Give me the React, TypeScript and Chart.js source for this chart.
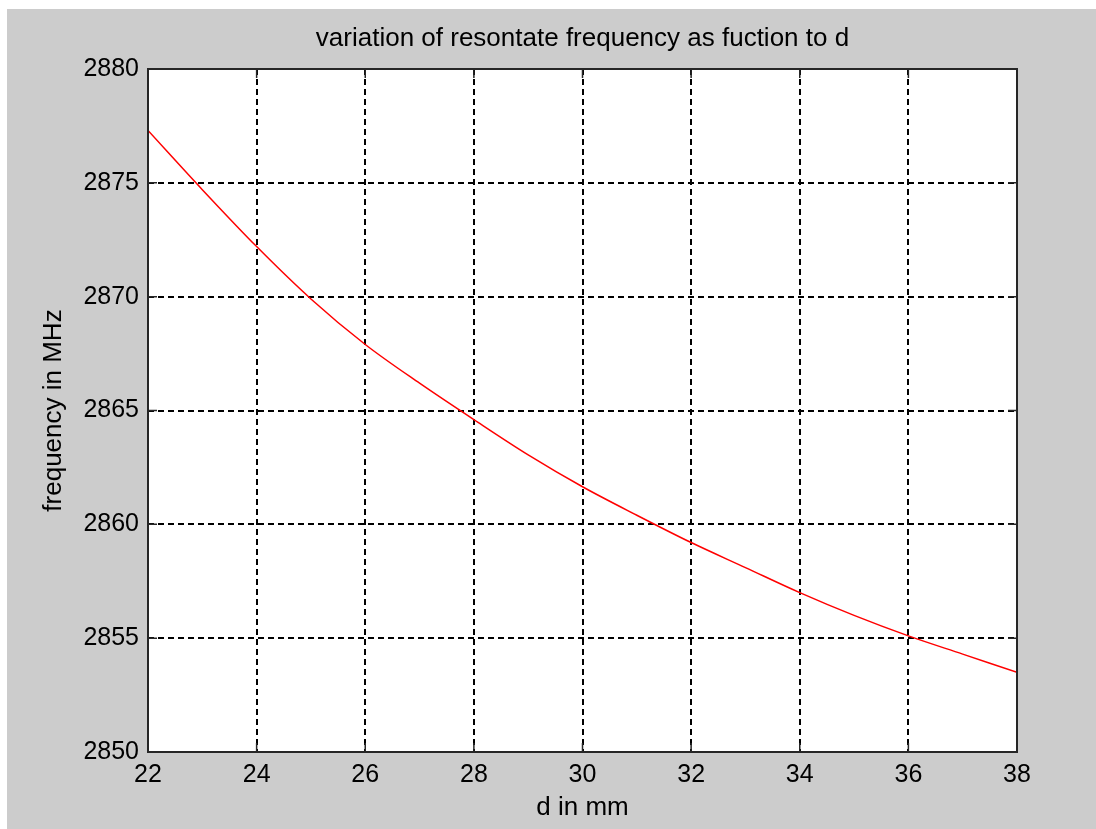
import React, { useEffect, useRef } from "react";
import { Chart, registerables } from "chart.js";

Chart.register(...registerables);

const dValues = [22, 23, 24, 25, 26, 27, 28, 29, 30, 31, 32, 33, 34, 35, 36, 37, 38];
const freqValues = [
  2877.3, 2874.7, 2872.2, 2869.9, 2867.9, 2866.2, 2864.6, 2863.05, 2861.65,
  2860.4, 2859.2, 2858.1, 2857.0, 2856.0, 2855.1, 2854.3, 2853.5,
];
const xTickValues = [22, 24, 26, 28, 30, 32, 34, 36, 38];
const yTickValues = [2850, 2855, 2860, 2865, 2870, 2875, 2880];

const titleText = "variation of resontate frequency as fuction to d";
const xLabel = "d in mm";
const yLabel = "frequency in MHz";

const FONT = "'Liberation Sans', Arial, sans-serif";

const frame = {
  id: "matlabFrame",
  beforeDraw(chart: any) {
    const { ctx, chartArea: a } = chart;
    ctx.save();
    ctx.fillStyle = "#ffffff";
    ctx.fillRect(a.left, a.top, a.right - a.left, a.bottom - a.top);
    ctx.restore();
  },
  afterDraw(chart: any) {
    const { ctx, chartArea: a, scales } = chart;
    ctx.save();
    ctx.strokeStyle = "#262626";
    ctx.lineWidth = 1.5;
    const L = 9;
    ctx.beginPath();
    for (const v of xTickValues) {
      const px = scales.x.getPixelForValue(v);
      ctx.moveTo(px, a.bottom);
      ctx.lineTo(px, a.bottom - L);
      ctx.moveTo(px, a.top);
      ctx.lineTo(px, a.top + L);
    }
    for (const v of yTickValues) {
      const py = scales.y.getPixelForValue(v);
      ctx.moveTo(a.left, py);
      ctx.lineTo(a.left + L, py);
      ctx.moveTo(a.right, py);
      ctx.lineTo(a.right - L, py);
    }
    ctx.stroke();
    ctx.lineWidth = 2;
    ctx.strokeRect(a.left, a.top, a.right - a.left, a.bottom - a.top);
    ctx.restore();
  },
};

export default function App() {
  const ref = useRef<HTMLCanvasElement | null>(null);

  useEffect(() => {
    if (!ref.current) return;
    const chart = new Chart(ref.current, {
      type: "line",
      data: {
        datasets: [
          {
            data: dValues.map((d, i) => ({ x: d, y: freqValues[i] })),
            borderColor: "#ff0000",
            borderWidth: 1.5,
            pointRadius: 0,
            cubicInterpolationMode: "monotone",
            fill: false,
          },
        ],
      },
      options: {
        animation: false,
        responsive: false,
        devicePixelRatio: 1,
        layout: { padding: { left: 0, top: 0, right: 79, bottom: 0 } },
        plugins: {
          legend: { display: false },
          tooltip: { enabled: false },
          title: {
            display: true,
            text: titleText,
            fullSize: false,
            color: "#000000",
            font: { family: FONT, size: 26, weight: "normal" },
            padding: { top: 14, bottom: 14.8 },
          },
        },
        scales: {
          x: {
            type: "linear",
            min: 22,
            max: 38,
            afterBuildTicks: (s: any) => {
              s.ticks = xTickValues.map((v) => ({ value: v }));
            },
            afterFit: (s: any) => {
              s.height = 77;
            },
            ticks: {
              color: "#000000",
              font: { family: FONT, size: 25 },
              padding: 8,
              maxRotation: 0,
              autoSkip: false,
              callback: (v: any) => String(v),
            },
            grid: {
              color: "#000000",
              lineWidth: 2,
              drawTicks: false,
            },
            border: { display: false, dash: [6, 4] },
            title: {
              display: true,
              text: xLabel,
              color: "#000000",
              font: { family: FONT, size: 26 },
              padding: { top: 0, bottom: 6 },
            },
          },
          y: {
            type: "linear",
            min: 2850,
            max: 2880,
            afterBuildTicks: (s: any) => {
              s.ticks = yTickValues.map((v) => ({ value: v }));
            },
            afterFit: (s: any) => {
              s.width = 141;
            },
            ticks: {
              color: "#000000",
              font: { family: FONT, size: 25 },
              padding: 9,
              autoSkip: false,
              callback: (v: any) => String(v),
            },
            grid: {
              color: "#000000",
              lineWidth: 2,
              drawTicks: false,
            },
            border: { display: false, dash: [6, 4] },
            title: {
              display: true,
              text: yLabel,
              color: "#000000",
              font: { family: FONT, size: 26 },
              padding: { top: 31, bottom: 0 },
            },
          },
        },
      },
      plugins: [frame],
    } as any);
    return () => chart.destroy();
  }, []);

  return (
    <div
      style={{
        position: "absolute",
        left: 7,
        top: 9,
        width: 1089,
        height: 820,
        background: "#cccccc",
      }}
    >
      <canvas ref={ref} width={1089} height={820} style={{ display: "block" }} />
    </div>
  );
}
